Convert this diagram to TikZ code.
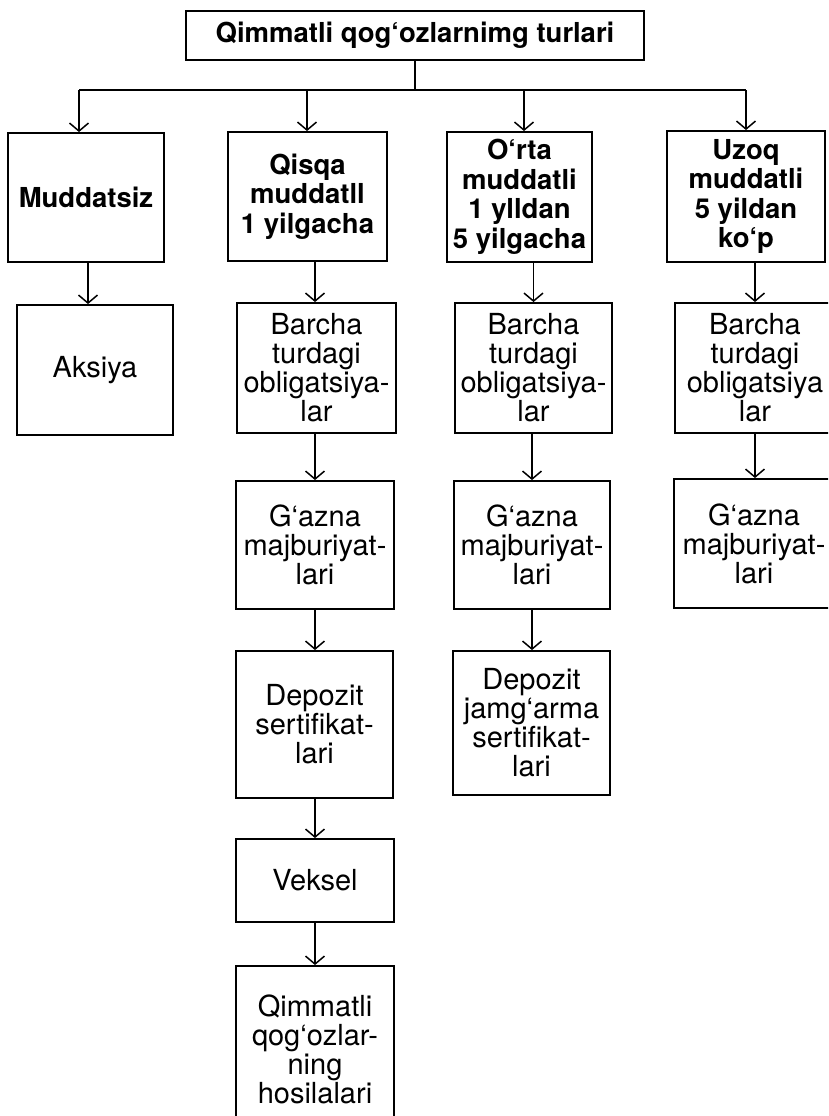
\documentclass[tikz,border=0pt]{standalone}
\usepackage{fontspec}
\setmainfont{TeX Gyre Heros}
\usetikzlibrary{arrows.meta}
\begin{document}
\begin{tikzpicture}[x=1pt,y=-1pt,line width=1.5pt,
  box/.style={draw,line width=1.9pt,inner sep=0pt,align=center,
    font=\fontsize{29}{29}\selectfont},
  hbox/.style={box,font=\fontsize{27.5}{29.5}\bfseries\selectfont},
  arr/.style={-{Straight Barb[length=8pt,width=19pt]}}]
\path[use as bounding box,clip] (0,0) rectangle (828,1116);
\fill[white] (0,0) rectangle (828,1116);
% title
\node[hbox,minimum width=458pt,minimum height=49pt] (title) at (415,35.5) {Qimmatli qog‘ozlarnimg turlari};
% headers
\node[hbox,minimum width=156pt,minimum height=129pt] (mud) at (86,197.5) {Muddatsiz};
\node[hbox,minimum width=159pt,minimum height=129pt] (qis) at (307.5,196.5) {Qisqa\\muddatll\\1 yilgacha};
\node[hbox,minimum width=145pt,minimum height=130pt] (orta) at (519.5,197) {O‘rta\\muddatli\\1 ylldan\\5 yilgacha};
\node[hbox,minimum width=158pt,minimum height=131pt] (uzoq) at (746,196.5) {Uzoq\\muddatli\\5 yildan\\ko‘p};
% row 2
\node[box,minimum width=156pt,minimum height=130pt] (aks) at (95,370) {Aksiya};
\node[box,minimum width=159pt,minimum height=130pt] (b2) at (316.5,368) {Barcha\\turdagi\\obligatsiya-\\lar};
\node[box,minimum width=157pt,minimum height=130pt] (b3) at (533.5,368) {Barcha\\turdagi\\obligatsiya-\\lar};
\node[box,minimum width=160pt,minimum height=130pt] (b4) at (755,368) {Barcha\\turdagi\\obligatsiya\\lar};
% row 3
\node[box,minimum width=158pt,minimum height=128pt] (g2) at (315,545) {G‘azna\\majburiyat-\\lari};
\node[box,minimum width=156pt,minimum height=128pt] (g3) at (532,545) {G‘azna\\majburiyat-\\lari};
\node[box,minimum width=160pt,minimum height=129pt] (g4) at (754,543.5) {G‘azna\\majburiyat-\\lari};
% row 4
\node[box,minimum width=157pt,minimum height=147pt] (d2) at (314.5,724.5) {Depozit\\sertifikat-\\lari};
\node[box,minimum width=157pt,minimum height=144pt] (d3) at (531.5,723) {Depozit\\jamg‘arma\\sertifikat-\\lari};
% row 5, 6
\node[box,minimum width=158pt,minimum height=83pt] (v2) at (315,880.5) {Veksel};
\node[box,minimum width=158pt,minimum height=166pt] (q2) at (315,1049) {Qimmatli\\qog‘ozlar-\\ning\\hosilalari};
% bus
\coordinate (c1) at (79,90);
\coordinate (c2) at (307,90);
\coordinate (c3) at (524,90);
\coordinate (c4) at (746,90);
\draw (title.south) -- (title.south |- c1);
\draw (c1) -- (c4);
\draw[arr] (c1) -- (c1 |- mud.north);
\draw[arr] (c2) -- (c2 |- qis.north);
\draw[arr] (c3) -- (c3 |- orta.north);
\draw[arr] (c4) -- (c4 |- uzoq.north);
% column 1
\draw[arr] ([xshift=2pt]mud.south) -- ([xshift=2pt]mud.south |- aks.north);
% column 2
\draw[arr] (qis.south -| g2) -- (g2 |- b2.north);
\draw[arr] (b2.south -| g2) -- (g2.north);
\draw[arr] (g2.south) -- (g2 |- d2.north);
\draw[arr] (d2.south -| g2) -- (g2 |- v2.north);
\draw[arr] (v2.south) -- (v2 |- q2.north);
% column 3
\draw[arr] (orta.south -| b3) -- (b3.north);
\draw[arr] (b3.south -| g3) -- (g3.north);
\draw[arr] (g3.south) -- (g3 |- d3.north);
% column 4
\draw[arr] (uzoq.south -| b4) -- (b4.north);
\draw[arr] (b4.south) -- (b4 |- g4.north);
\end{tikzpicture}
\end{document}
